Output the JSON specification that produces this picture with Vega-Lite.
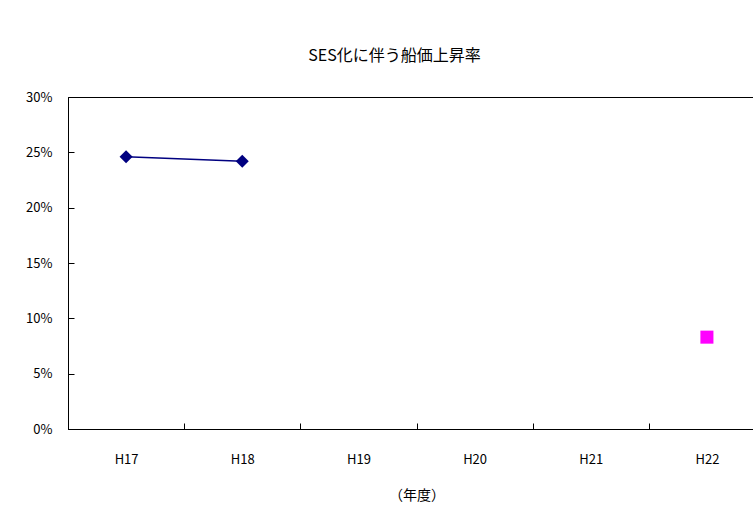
{
  "$schema": "https://vega.github.io/schema/vega-lite/v6.json",
  "autosize": {"type": "none"},
  "padding": {"left": 68, "top": 97, "right": 0, "bottom": 89},
  "width": 697,
  "height": 332,
  "background": "white",
  "title": {
    "text": "SES化に伴う船価上昇率",
    "font": "Noto Sans CJK JP",
    "fontSize": 16,
    "fontWeight": "normal",
    "color": "black",
    "offset": 27,
    "dx": -22
  },
  "config": {
    "view": {"stroke": "black", "strokeWidth": 1},
    "axis": {
      "labelFont": "Noto Sans CJK JP",
      "labelFontSize": 13,
      "labelColor": "black",
      "titleFont": "Noto Sans CJK JP",
      "titleFontSize": 14,
      "titleFontWeight": "normal",
      "titleColor": "black",
      "domainColor": "black",
      "tickColor": "black",
      "grid": false
    }
  },
  "data": {
    "values": [
      {"year": "H17", "rate": 0.246, "series": "A"},
      {"year": "H18", "rate": 0.242, "series": "A"},
      {"year": "H22", "rate": 0.083, "series": "B"}
    ]
  },
  "encoding": {
    "x": {
      "field": "year",
      "type": "nominal",
      "scale": {"domain": ["H17", "H18", "H19", "H20", "H21", "H22"], "paddingInner": 0, "paddingOuter": 0},
      "axis": {
        "title": "（年度）",
        "labelAngle": 0,
        "tickBand": "extent",
        "tickSize": -6,
        "labelPadding": 30,
        "titlePadding": 22
      }
    },
    "y": {
      "field": "rate",
      "type": "quantitative",
      "scale": {"domain": [0, 0.3], "nice": false},
      "axis": {
        "title": null,
        "format": ".0%",
        "values": [0, 0.05, 0.1, 0.15, 0.2, 0.25, 0.3],
        "tickSize": -6,
        "labelPadding": 22
      }
    },
    "color": {
      "field": "series",
      "type": "nominal",
      "scale": {"domain": ["A", "B"], "range": ["#000080", "#ff00ff"]},
      "legend": null
    }
  },
  "layer": [
    {
      "mark": {"type": "line", "strokeWidth": 1.5},
      "transform": [{"filter": "datum.series === 'A'"}]
    },
    {
      "mark": {"type": "point", "filled": true, "opacity": 1},
      "encoding": {
        "shape": {
          "field": "series",
          "type": "nominal",
          "scale": {"domain": ["A", "B"], "range": ["diamond", "square"]},
          "legend": null
        },
        "size": {
          "field": "series",
          "type": "nominal",
          "scale": {"domain": ["A", "B"], "range": [170, 170]},
          "legend": null
        }
      }
    }
  ]
}
